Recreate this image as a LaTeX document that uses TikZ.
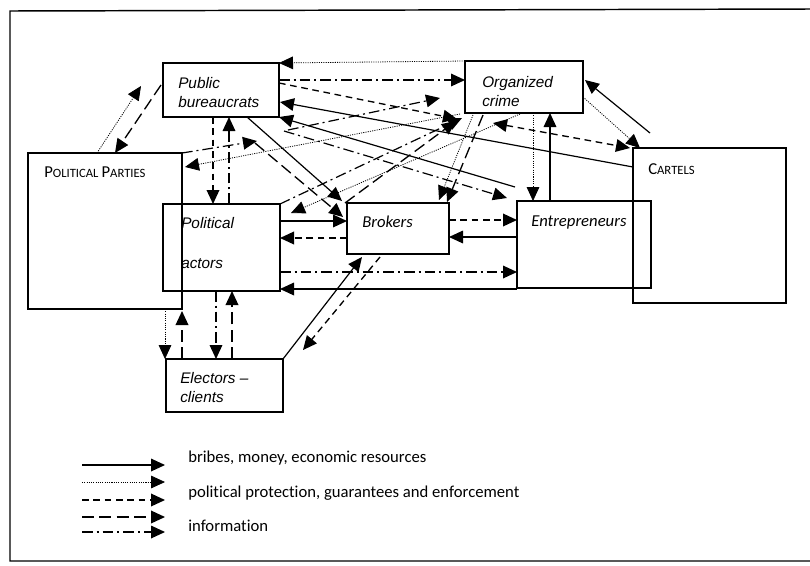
\documentclass[tikz,border=0pt]{standalone}
\usepackage{fontspec}
\setmainfont{Liberation Sans}
\newfontfamily\calibri[Ligatures=NoCommon]{Carlito}
\usepackage{tikz}
\usetikzlibrary{calc}
\usetikzlibrary{arrows.meta}
\newcommand{\capword}[2]{{\fontsize{12.5}{14}\selectfont #1}{\fontsize{9.5}{11}\selectfont #2}}

\begin{document}
\begin{tikzpicture}[
			x=0.75pt, y=-0.75pt,
			>={Triangle[length=10.5pt,width=9.5pt]},
			box/.style={draw=black, line width=0.9pt, inner sep=0pt, outer sep=0pt, anchor=north west},
			boxtext/.style={anchor=north west, inner sep=0pt, align=left, font=\fontsize{11.5}{14.25}\selectfont\itshape},
			calitext/.style={anchor=north west, inner sep=0pt, font=\calibri\fontsize{12.5}{15}\selectfont\itshape},
			captext/.style={anchor=north west, inner sep=0pt, font=\calibri},
			legtext/.style={anchor=base west, inner sep=0pt, font=\calibri\fontsize{12.5}{14}\selectfont},
			bribe/.style={draw=black, line width=0.9pt, ->},
			favour/.style={draw=black, line width=0.6pt, dash pattern=on 0.8pt off 0.9pt, ->},
			protect/.style={draw=black, line width=1pt, dash pattern=on 5pt off 3.5pt, ->},
			enforce/.style={draw=black, line width=1pt, dash pattern=on 9pt off 4pt, ->},
			info/.style={draw=black, line width=0.9pt, dash pattern=on 8pt off 3pt on 1.5pt off 3pt, ->}
			]
			\useasboundingbox (0,0) rectangle (810,565);
			
			%% Frame
			\draw[line width=1.1pt] (810,9) -- (10,11) -- (10,561) -- (810,561);
			
			%% Boxes
			\node[box, minimum width=87pt, minimum height=40.5pt] (bureau) at (163,63) {};
			\node[box, minimum width=88.5pt, minimum height=39pt] (crime) at (465,61) {};
			\node[box, minimum width=114.75pt, minimum height=116.25pt] (cartels) at (633,148) {};
			\node[box, minimum width=115.5pt, minimum height=117pt] (parties) at (28,153) {};
			\node[box, minimum width=87.75pt, minimum height=65.25pt] (actors) at (163,204) {};
			\node[box, minimum width=76.5pt, minimum height=38.25pt] (brokers) at (347,203) {};
			\node[box, minimum width=100.5pt, minimum height=65.25pt] (entre) at (517,201) {};
			\node[box, minimum width=87.75pt, minimum height=39.75pt] (electors) at (166,359) {};
			
			\node[boxtext] (bureautext) at ($(bureau.north west)+(15,14)$) {Public\\bureaucrats};
			\node[boxtext] (crimetext) at ($(crime.north west)+(17,15)$) {Organized\\crime};
			\node[boxtext] (actorstext) at ($(actors.north west)+(18,13)$) {Political\\[15.75pt]actors};
			\node[boxtext] (electorstext) at ($(electors.north west)+(14,13)$) {Electors --\\clients};
			\node[calitext] (brokerstext) at ($(brokers.north west)+(15,13)$) {Brokers};
			\node[calitext] (entretext) at ($(entre.north west)+(14,15)$) {Entrepreneurs};
			\node[captext] (partiestext) at ($(parties.north west)+(16,14)$) {\capword{P}{OLITICAL} \capword{P}{ARTIES}};
			\node[captext] (cartelstext) at ($(cartels.north west)+(15,15)$) {\capword{C}{ARTELS}};
			
			%% Arrows
			% parties - bureaucrats
			\draw[favour] ($(parties.north west)+(69,0)$) -- ($(bureau.west)+(-22,-4)$);
			\draw[enforce] ($(bureau.west)+(-2,-5)$) -- ($(parties.north west)+(87,0)$);
			% bureaucrats - crime
			\draw[favour] (crime.north west) -- (bureau.north east);
			\draw[info] ($(bureau.north east)+(0,17)$) -- ($(crime.north west)+(0,19)$);
			\draw[protect] ($(bureau.north east)+(0,20)$) -- ($(crime.south west)+(-8,6)$);
			\draw[info] ($(bureau.south east)+(9,13)$) -- ($(crime.south west)+(-25,-15)$);
			% bureaucrats - cartels, entrepreneurs
			\draw[bribe] ($(cartels.north west)+(0,19)$) -- ($(bureau.north east)+(1,39)$);
			\draw[bribe] ($(entre.north west)+(-2,-14)$) -- (bureau.south east);
			\draw[info] ($(bureau.south east)+(5,14)$) -- ($(entre.north west)+(-10,-3)$);
			% bureaucrats - actors, brokers
			\draw[protect] ($(bureau.south west)+(50,0)$) -- ($(actors.north west)+(50,0)$);
			\draw[info] ($(actors.north west)+(66,0)$) -- ($(bureau.south west)+(66,0)$);
			\draw[bribe] ($(bureau.south west)+(84,0)$) -- ($(brokers.north west)+(-5,-2)$);
			\draw[info] (parties.north east) -- ($(bureau.south)+(36,24)$);
			\draw[enforce] ($(bureau.south)+(34,26)$) -- ($(brokers.north west)+(-4,14)$);
			% crime - parties, actors, brokers
			\draw[favour] ($(crime.south west)+(-5,1)$) -- ($(parties.north east)+(3,14)$);
			\draw[info] (actors.north east) -- ($(crime.south west)+(-3,5)$);
			\draw[favour] ($(crime.south west)+(55,1)$) -- ($(actors.north east)+(11,9)$);
			\draw[enforce] ($(brokers.north west)+(-2,0)$) -- ($(crime.south west)+(-9,8)$);
			\draw[favour] ($(crime.south west)+(8,2)$) -- ($(brokers.north east)+(-10,-3)$);
			\draw[enforce] ($(crime.south west)+(18,2)$) -- ($(brokers.north east)+(-2,-1)$);
			% brokers - electors
			\draw[protect] ($(brokers.south west)+(33,3)$) -- ($(electors.north east)+(20,-9)$);
			\draw[bribe] (electors.north east) -- ($(brokers.south west)+(15,3)$);
			% actors - brokers - entrepreneurs
			\draw[bribe] ($(actors.north east)+(0,17)$) -- ($(brokers.north west)+(0,18)$);
			\draw[protect] ($(brokers.north west)+(0,35)$) -- ($(actors.north east)+(0,34)$);
			\draw[protect] ($(brokers.north east)+(0,17)$) -- ($(entre.north west)+(0,19)$);
			\draw[bribe] ($(entre.north west)+(0,36)$) -- ($(brokers.north east)+(0,34)$);
			\draw[info] ($(actors.north east)+(0,68)$) -- ($(entre.north west)+(0,71)$);
			\draw[bribe] ($(entre.south west)+(0,1)$) -- ($(actors.south east)+(0,-2)$);
			% crime - entrepreneurs, cartels
			\draw[favour] ($(crime.south west)+(68,0)$) -- ($(entre.north west)+(16,0)$);
			\draw[bribe] ($(entre.north west)+(33,0)$) -- ($(crime.south west)+(85,0)$);
			\draw[bribe] ($(cartels.north west)+(17,-15)$) -- ($(crime.north east)+(2,19)$);
			\draw[favour] ($(crime.north east)+(0,36)$) -- ($(cartels.north west)+(7,0)$);
			\draw[protect, <->] ($(crime.south west)+(28,10)$) -- ($(cartels.north west)+(-3,0)$);
			% electors - parties, actors
			\draw[favour] ($(parties.south east)+(-17,0)$) -- ($(electors.north west)+(-1,0)$);
			\draw[enforce] ($(electors.north west)+(16,0)$) -- ($(parties.south east)+(0,2)$);
			\draw[info] ($(actors.south west)+(53,0)$) -- ($(electors.north west)+(50,0)$);
			\draw[enforce] ($(electors.north west)+(66,0)$) -- ($(actors.south west)+(69,0)$);
			
			%% Legend
			\foreach \s/\y in {bribe/465, favour/482, protect/500, enforce/517, info/532} {
				\coordinate (l\s) at (82,\y);
				\coordinate (r\s) at (165,\y);
				\draw[\s] (l\s) -- (r\s);
			}
			\node[legtext] (legbribe) at (188,462) {bribes, money, economic resources};
			\node[legtext] (legprotect) at (188,497) {political protection, guarantees and enforcement};
			\node[legtext] (leginfo) at (188,531) {information};
			
			\end{tikzpicture}
\end{document}
